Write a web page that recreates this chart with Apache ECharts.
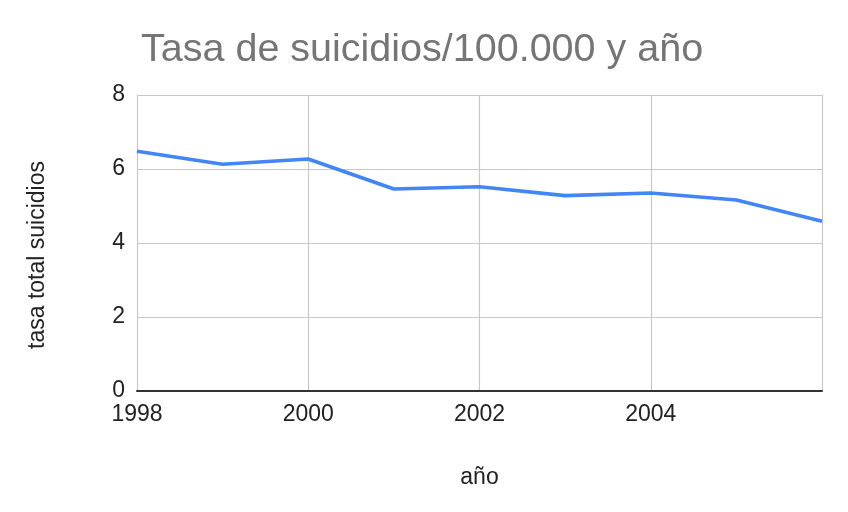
<!DOCTYPE html>
<html>
<head>
<meta charset="utf-8">
<script src="https://cdn.jsdelivr.net/npm/echarts@6/dist/echarts.min.js"></script>
<style>
html,body{margin:0;padding:0;background:#fff;}
#chart{width:848px;height:512px;}
</style>
</head>
<body>
<div id="chart"></div>
<script>
const years = [1998, 1999, 2000, 2001, 2002, 2003, 2004, 2005, 2006];
const tasaTotal = [6.48, 6.13, 6.27, 5.46, 5.52, 5.28, 5.35, 5.16, 4.59];
const yTicks = [0, 2, 4, 6, 8];
const xTicks = [1998, 2000, 2002, 2004];

const FONT = "'Liberation Sans', Arial, sans-serif";
const chart = echarts.init(document.getElementById('chart'), null, {renderer: 'canvas'});
chart.setOption({
  animation: false,
  backgroundColor: '#ffffff',
  title: {
    text: 'Tasa de suicidios/100.000 y año',
    left: 136,
    top: 25,
    textStyle: {fontFamily: FONT, fontSize: 39.5, fontWeight: 'normal', color: '#757575'}
  },
  grid: {left: 137, right: 26, top: 95, bottom: 121, containLabel: false},
  xAxis: {
    type: 'value',
    min: xTicks[0],
    max: years[years.length - 1],
    interval: 2,
    name: 'año',
    nameLocation: 'middle',
    nameGap: 75,
    nameTextStyle: {fontFamily: FONT, fontSize: 23, color: '#222'},
    axisLine: {show: true, onZero: false, lineStyle: {color: '#333', width: 2}},
    axisTick: {show: false},
    splitLine: {show: true, lineStyle: {color: '#c8c8c8', width: 1.2}},
    axisLabel: {
      fontFamily: FONT, fontSize: 23, color: '#222', margin: 12,
      showMaxLabel: false,
      formatter: v => xTicks.includes(v) ? String(v) : ''
    }
  },
  yAxis: {
    type: 'value',
    min: yTicks[0],
    max: yTicks[yTicks.length - 1],
    interval: 2,
    name: 'tasa total suicidios',
    nameLocation: 'middle',
    nameGap: 88,
    nameRotate: 90,
    nameTextStyle: {fontFamily: FONT, fontSize: 23, color: '#222', padding: [0, 24, 0, 0]},
    axisLine: {show: false},
    axisTick: {show: false},
    splitLine: {show: true, lineStyle: {color: '#c8c8c8', width: 1.2}},
    axisLabel: {fontFamily: FONT, fontSize: 23, color: '#222', margin: 12, padding: [4, 0, 0, 0]}
  },
  series: [{
    type: 'line',
    data: years.map((y, i) => [y, tasaTotal[i]]),
    showSymbol: false,
    symbol: 'none',
    lineStyle: {color: '#4285F4', width: 3.6},
    itemStyle: {color: '#4285F4'}
  }]
});
</script>
</body>
</html>
